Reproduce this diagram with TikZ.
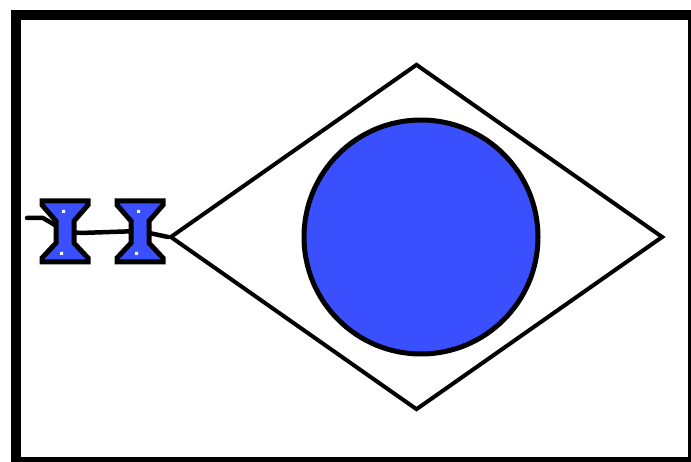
\documentclass[tikz,border=0pt]{standalone}
\usepackage{tikz}
\usetikzlibrary{shapes.geometric, backgrounds}
\definecolor{lensblue}{RGB}{58,80,255}

\begin{document}
\begin{tikzpicture}[x=1pt, y=-1pt,
	hglass/.style={draw=none, inner sep=0pt, minimum width=60pt, minimum height=74pt,
		path picture={
			\begin{scope}[shift={(path picture bounding box.center)}]
				\draw[line width=5pt, line join=miter, fill=lensblue]
					(-23,-30) -- (23,-30) -- (23,-26) -- (9,-10) -- (9,12) -- (23,27) -- (23,31)
					-- (-23,31) -- (-23,27) -- (-9,12) -- (-9,-10) -- (-23,-26) -- cycle;
				\fill[white] (-3,-21) rectangle (0,-18) (-5,21) rectangle (-2,24);
			\end{scope}
		}},
	beam/.style={line width=4.5pt, line cap=round, line join=round}]
				\useasboundingbox (0,0) rectangle (691,462);
				\draw[line width=10pt] (16,15) rectangle (693,462);
				
				\node[draw, shape=diamond, line width=4pt, inner sep=0pt, minimum width=493pt, minimum height=346pt] (prism) at (416.5,237) {};
				\node[draw, circle, line width=5pt, fill=lensblue, minimum size=234pt, inner sep=0pt] (ball) at (421,237) {};
				\node[hglass] (lensA) at (65,231) {};
				\node[hglass] (lensB) at (140,231) {};
				\coordinate (feed) at (27,218);
				
				\begin{scope}[on background layer]
					\draw[beam] (feed) -- ++(16,0) -- (lensA.center);
					\draw[beam] (lensA.center) -- ++(15,2) -- (lensB.center);
					\draw[beam] (lensB.center) -- (prism.west);
				\end{scope}
			\end{tikzpicture}
\end{document}
